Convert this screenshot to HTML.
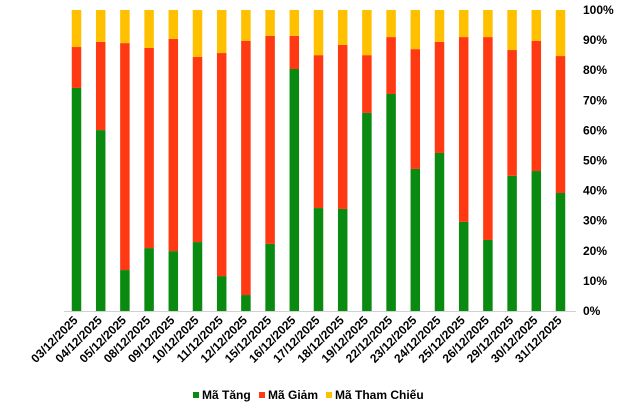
<!DOCTYPE html>
<html><head><meta charset="utf-8"><style>
body{margin:0;background:#fff;}
svg text{font-family:"Liberation Sans",Arial,sans-serif;font-weight:bold;fill:#000;}
</style></head><body>
<svg id="chart" width="641" height="403" xmlns="http://www.w3.org/2000/svg"></svg>
<script>
const categories=["03/12/2025","04/12/2025","05/12/2025","08/12/2025","09/12/2025","10/12/2025","11/12/2025","12/12/2025","15/12/2025","16/12/2025","17/12/2025","18/12/2025","19/12/2025","22/12/2025","23/12/2025","24/12/2025","25/12/2025","26/12/2025","29/12/2025","30/12/2025","31/12/2025"];
const tang=[74.1,60.1,13.6,20.9,19.9,22.9,11.6,5.3,22.3,80.4,34.2,33.9,65.8,72.1,47.2,52.5,29.6,23.6,44.9,46.5,39.2];
const giam=[13.6,29.3,75.4,66.5,70.5,61.5,74.1,84.4,69.1,11.0,50.8,54.5,19.2,18.9,39.8,36.9,61.4,67.4,41.8,43.2,45.5];
const tham=[12.3,10.6,11.0,12.6,9.6,15.6,14.3,10.3,8.6,8.6,15.0,11.6,15.0,9.0,13.0,10.6,9.0,9.0,13.3,10.3,15.3];
const ticks=["0%","10%","20%","30%","40%","50%","60%","70%","80%","90%","100%"];
const colors=["#0a8a10","#ff3a12","#ffc000"];
const names=["Mã Tăng","Mã Giảm","Mã Tham Chiếu"];
const svg=document.getElementById('chart');
const NS="http://www.w3.org/2000/svg";
const y0=311,y1=10,x0=64,step=24.2,bw=9.5;
function yS(v){return y0-(y0-y1)*v/100;}
function xC(i){return 76.5+i*step;}
function mk(t,a){const e=document.createElementNS(NS,t);for(const k in a)e.setAttribute(k,a[k]);svg.appendChild(e);return e;}
const ax=mk('line',{x1:x0,x2:576,y1:y0+0.5,y2:y0+0.5,stroke:'#d0d0d0','stroke-width':1});


ticks.forEach((t,i)=>{const e=mk('text',{x:583,y:yS(i*10)+4,'font-size':12});e.textContent=t;

});
const series=[tang,giam,tham];
categories.forEach((c,i)=>{let base=0;
series.forEach((s,k)=>{const v=s[i];
const r=mk('rect',{x:xC(i)-bw/2,y:yS(base+v),width:bw,height:yS(base)-yS(base+v),fill:colors[k]});


base+=v;});
const cx=xC(i)+2,cy=321;
const t=mk('text',{x:cx,y:cy,'font-size':12,'text-anchor':'end',transform:`rotate(-45 ${cx} ${cy})`});
t.textContent=c;

});
const lx=[193,259,326];
names.forEach((n,k)=>{const r=mk('rect',{x:lx[k],y:392,width:6,height:6,fill:colors[k]});


const t=mk('text',{x:lx[k]+9,y:399,'font-size':12});t.textContent=n;

});
</script>
</body></html>
